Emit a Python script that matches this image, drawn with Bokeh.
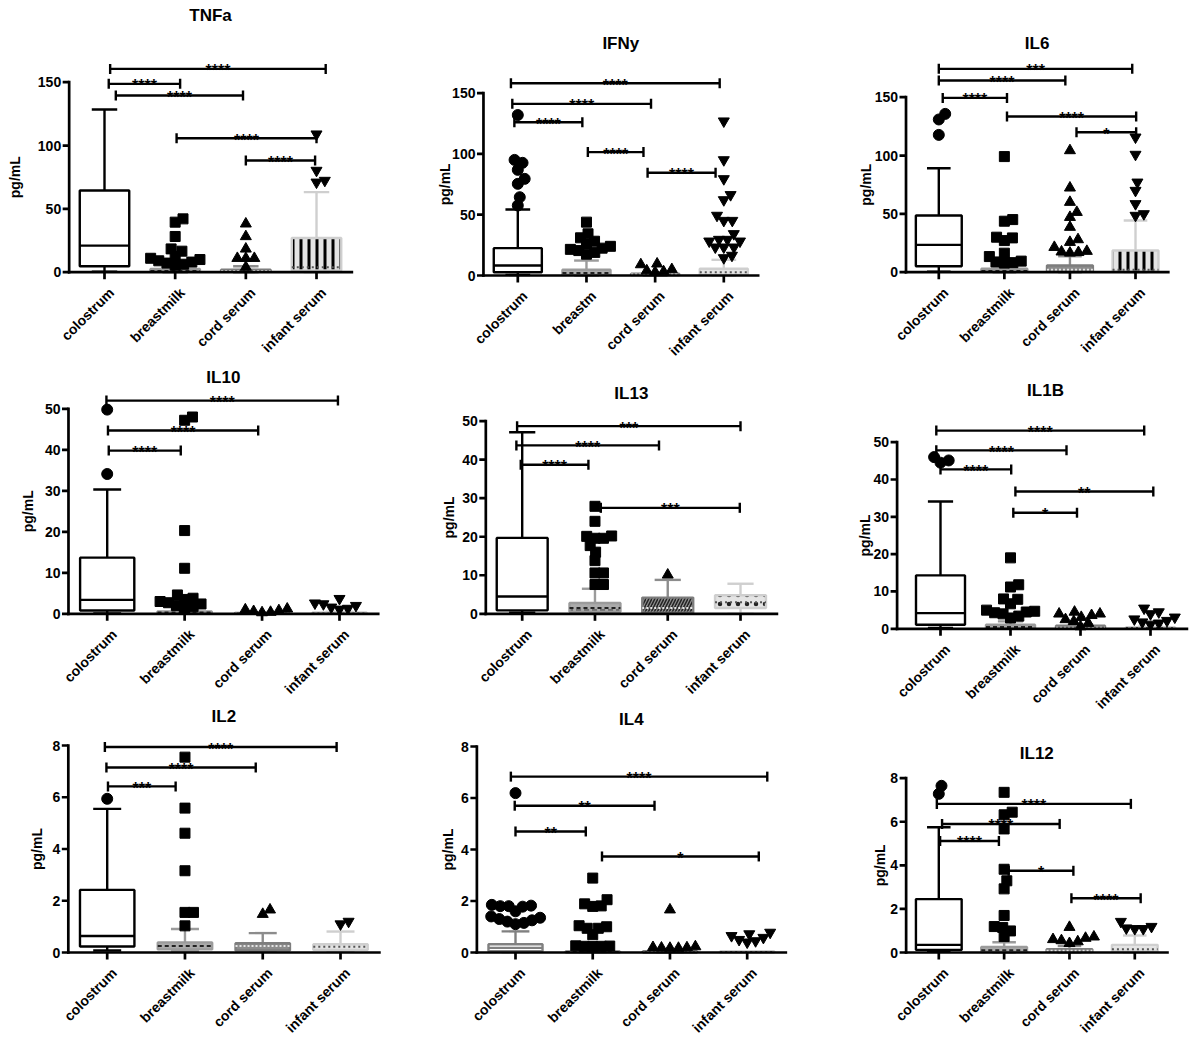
import math
from bokeh.plotting import figure
from bokeh.layouts import column, row
from bokeh.models import Range1d, ColumnDataSource
from bokeh.core.properties import value
from bokeh.embed import file_html
from bokeh.resources import INLINE

FONT = "Liberation Sans"

GROUPS = ["colostrum", "breastmilk", "cord serum", "infant serum"]
GROUPS_IFNY = ["colostrum", "breastm", "cord serum", "infant serum"]

# box stats per group: [whisker_low, q1, median, q3, whisker_high]
TNFA_BOX = [[0.3, 4.7, 21.0, 64.5, 128.5], [0.0, 0.3, 1.0, 2.5, 4.0], [0.0, 0.3, 1.0, 2.0, 4.7], [0.0, 1.3, 4.0, 27.0, 63.2]]
TNFA_COLOSTRUM = []
TNFA_BREASTMILK = [42.1, 39.5, 28.2, 18.4, 16.6, 12.5, 11.0, 10.0, 9.0, 8.0, 7.2, 6.3, 5.5]
TNFA_CORD = [38.2, 28.2, 18.4, 11.0, 11.0, 11.0, 4.0]
TNFA_INFANT = [109.0, 80.3, 72.4, 71.0]
TNFA_SIG = [(0.08, 3.13, 160.5, "****"), (0.06, 1.07, 148.7, "****"), (0.16, 1.96, 139.5, "****"),
            (1.02, 3.0, 105.8, "****"), (2.0, 2.98, 88.2, "****")]
TNFA_YTICKS = [0, 50, 100, 150]

IFNY_BOX = [[0.5, 2.7, 8.2, 22.5, 54.3], [0.0, 0.5, 2.0, 4.7, 12.3], [0.0, 0.3, 0.8, 1.5, 2.5], [0.0, 0.5, 2.7, 5.5, 12.9]]
IFNY_COLOSTRUM = [132.0, 95.1, 92.7, 86.9, 79.5, 75.4, 64.4, 57.6]
IFNY_BREASTMILK = [43.9, 34.3, 31.0, 28.2, 26.0, 24.0, 22.5, 21.5, 20.5, 19.0, 17.5]
IFNY_CORD = [9.6, 9.0, 5.0, 4.0, 3.2, 2.8]
IFNY_INFANT = [127.0, 95.1, 79.5, 66.4, 62.2, 49.4, 45.2, 45.2, 34.3, 29.6, 29.6, 28.2, 28.2, 23.3, 23.3, 23.3, 16.5, 14.5]
IFNY_SIG = [(-0.1, 2.94, 158.2, "****"), (-0.08, 1.94, 141.2, "****"), (-0.05, 0.94, 126.1, "****"),
            (1.02, 1.83, 101.5, "****"), (1.89, 2.88, 84.5, "****")]
IFNY_YTICKS = [0, 50, 100, 150]

IL6_BOX = [[0.5, 5.1, 23.4, 48.6, 89.1], [0.0, 0.3, 1.0, 2.9, 5.0], [0.0, 0.3, 2.0, 5.7, 13.7], [0.0, 0.5, 2.0, 18.6, 44.3]]
IL6_COLOSTRUM = [135.7, 130.9, 117.7]
IL6_BREASTMILK = [99.1, 45.1, 43.7, 30.0, 29.4, 27.1, 16.3, 13.4, 9.5, 8.8, 8.2, 7.8]
IL6_CORD = [104.3, 72.3, 60.0, 51.4, 47.1, 38.6, 28.0, 25.7, 21.4, 18.0, 17.5, 17.0, 16.5]
IL6_INFANT = [115.7, 100.9, 77.1, 70.0, 58.6, 50.0, 48.6]
IL6_SIG = [(0.0, 2.95, 174.3, "***"), (0.0, 1.93, 164.3, "****"), (0.06, 1.04, 149.4, "****"),
           (1.04, 3.01, 133.4, "****"), (2.1, 3.01, 120.0, "*")]
IL6_YTICKS = [0, 50, 100, 150]

IL10_BOX = [[0.1, 0.8, 3.4, 13.7, 30.3], [0.0, 0.1, 0.3, 0.6, 1.0], [0.0, 0.05, 0.1, 0.2, 0.3], [0.0, 0.05, 0.1, 0.3, 0.5]]
IL10_COLOSTRUM = [49.8, 34.1]
IL10_BREASTMILK = [48.0, 47.2, 20.3, 11.1, 4.6, 3.8, 3.5, 3.0, 2.7, 2.4, 2.0, 1.7, 1.4]
IL10_CORD = [1.2, 1.0, 0.8, 0.6, 0.4, 0.3]
IL10_INFANT = [3.7, 2.6, 2.4, 2.0, 1.6, 1.3, 1.1]
IL10_SIG = [(-0.01, 2.98, 52.0, "****"), (0.01, 1.95, 44.7, "****"), (0.02, 0.95, 39.8, "****")]
IL10_YTICKS = [0, 10, 20, 30, 40, 50]

IL13_BOX = [[0.3, 0.9, 4.5, 19.7, 47.1], [0.3, 0.5, 1.5, 2.8, 6.5], [0.0, 0.3, 1.5, 4.2, 8.8], [0.0, 1.5, 3.0, 4.8, 7.8]]
IL13_COLOSTRUM = []
IL13_BREASTMILK = [27.9, 24.0, 20.2, 20.1, 19.6, 19.6, 17.7, 16.0, 13.8, 10.6, 10.6, 7.6, 7.6]
IL13_CORD = [10.1]
IL13_INFANT = []
IL13_SIG = [(-0.07, 3.0, 48.7, "***"), (-0.08, 1.88, 43.7, "****"), (-0.02, 0.91, 38.7, "****"),
            (1.08, 2.99, 27.5, "***")]
IL13_YTICKS = [0, 10, 20, 30, 40, 50]

IL1B_BOX = [[0.2, 1.1, 4.2, 14.3, 34.1], [0.0, 0.1, 0.5, 1.1, 2.0], [0.0, 0.1, 0.3, 0.8, 1.2], [0.0, 0.05, 0.2, 0.4, 0.6]]
IL1B_COLOSTRUM = [46.0, 45.1, 44.5]
IL1B_BREASTMILK = [19.0, 11.8, 11.2, 8.0, 7.9, 6.7, 5.0, 4.7, 4.5, 4.3, 4.0, 3.4, 2.9]
IL1B_CORD = [4.5, 4.0, 4.0, 3.6, 3.1, 2.5, 2.0, 1.5, 0.6]
IL1B_INFANT = [5.5, 4.5, 4.0, 3.1, 2.6, 2.2, 1.8, 1.5, 1.2]
IL1B_SIG = [(-0.06, 2.91, 53.1, "****"), (-0.06, 1.8, 47.8, "****"), (0.0, 1.01, 42.7, "****"),
            (1.07, 3.04, 36.8, "**"), (1.04, 1.95, 31.1, "*")]
IL1B_YTICKS = [0, 10, 20, 30, 40, 50]

IL2_BOX = [[0.08, 0.23, 0.64, 2.42, 5.55], [0.05, 0.12, 0.25, 0.39, 0.91], [0.05, 0.08, 0.25, 0.36, 0.75], [0.05, 0.1, 0.22, 0.32, 0.81]]
IL2_COLOSTRUM = [5.94]
IL2_BREASTMILK = [7.55, 5.58, 4.61, 3.16, 1.55, 1.55, 1.03]
IL2_CORD = [1.65, 1.48]
IL2_INFANT = [1.2, 1.1]
IL2_SIG = [(-0.03, 2.95, 7.94, "****"), (-0.01, 1.91, 7.15, "****"), (0.01, 0.88, 6.42, "***")]
IL2_YTICKS = [0, 2, 4, 6, 8]

IL4_BOX = [[0.02, 0.05, 0.18, 0.32, 0.82], [0.0, 0.0, 0.02, 0.05, 0.05], [0.0, 0.0, 0.02, 0.05, 0.05], [0.0, 0.0, 0.02, 0.05, 0.05]]
IL4_COLOSTRUM = [6.19, 1.85, 1.82, 1.8, 1.8, 1.78, 1.6, 1.4, 1.35, 1.3, 1.25, 1.2, 1.15, 1.1]
IL4_BREASTMILK = [2.89, 2.05, 1.89, 1.81, 1.79, 1.04, 1.0, 0.94, 0.94, 0.69, 0.26, 0.25, 0.24, 0.24, 0.23]
IL4_CORD = [1.66, 0.23, 0.2, 0.19, 0.18, 0.17, 0.17]
IL4_INFANT = [0.78, 0.72, 0.65, 0.58, 0.5, 0.45, 0.4]
IL4_SIG = [(-0.06, 3.26, 6.83, "****"), (-0.01, 1.8, 5.7, "**"), (0.0, 0.91, 4.7, "**"), (1.12, 3.15, 3.73, "*")]
IL4_YTICKS = [0, 2, 4, 6, 8]

IL12_BOX = [[0.05, 0.12, 0.35, 2.45, 5.75], [0.0, 0.02, 0.1, 0.25, 0.47], [0.0, 0.02, 0.08, 0.15, 0.3], [0.0, 0.05, 0.15, 0.35, 0.78]]
IL12_COLOSTRUM = [7.65, 7.28]
IL12_BREASTMILK = [7.35, 6.44, 6.32, 5.67, 3.82, 3.29, 2.92, 1.7, 1.19, 1.15, 0.99, 0.73]
IL12_CORD = [1.16, 0.72, 0.66, 0.6, 0.55, 0.5, 0.42]
IL12_INFANT = [1.42, 1.19, 1.12, 1.09, 1.09]
IL12_SIG = [(-0.03, 2.94, 6.82, "****"), (0.05, 1.85, 5.9, "****"), (0.02, 0.92, 5.12, "****"),
            (1.07, 2.06, 3.75, "*"), (2.03, 3.09, 2.49, "****")]
IL12_YTICKS = [0, 2, 4, 6, 8]

PANELS = [
    ("TNFa", GROUPS, TNFA_BOX, [TNFA_COLOSTRUM, TNFA_BREASTMILK, TNFA_CORD, TNFA_INFANT], TNFA_SIG, TNFA_YTICKS),
    ("IFNy", GROUPS_IFNY, IFNY_BOX, [IFNY_COLOSTRUM, IFNY_BREASTMILK, IFNY_CORD, IFNY_INFANT], IFNY_SIG, IFNY_YTICKS),
    ("IL6", GROUPS, IL6_BOX, [IL6_COLOSTRUM, IL6_BREASTMILK, IL6_CORD, IL6_INFANT], IL6_SIG, IL6_YTICKS),
    ("IL10", GROUPS, IL10_BOX, [IL10_COLOSTRUM, IL10_BREASTMILK, IL10_CORD, IL10_INFANT], IL10_SIG, IL10_YTICKS),
    ("IL13", GROUPS, IL13_BOX, [IL13_COLOSTRUM, IL13_BREASTMILK, IL13_CORD, IL13_INFANT], IL13_SIG, IL13_YTICKS),
    ("IL1B", GROUPS, IL1B_BOX, [IL1B_COLOSTRUM, IL1B_BREASTMILK, IL1B_CORD, IL1B_INFANT], IL1B_SIG, IL1B_YTICKS),
    ("IL2", GROUPS, IL2_BOX, [IL2_COLOSTRUM, IL2_BREASTMILK, IL2_CORD, IL2_INFANT], IL2_SIG, IL2_YTICKS),
    ("IL4", GROUPS, IL4_BOX, [IL4_COLOSTRUM, IL4_BREASTMILK, IL4_CORD, IL4_INFANT], IL4_SIG, IL4_YTICKS),
    ("IL12", GROUPS, IL12_BOX, [IL12_COLOSTRUM, IL12_BREASTMILK, IL12_CORD, IL12_INFANT], IL12_SIG, IL12_YTICKS),
]

# ---- page layout (pixels).  Each panel is one figure whose frame fills its cell.
COL_LEFTS = [0, 400, 795]
COL_WIDTHS = [400, 395, 395]
COL_ROW_EDGES = [[0, 355, 698, 1040], [0, 365, 700, 1040], [0, 362, 722, 1040]]
# col, px of first category, px per category, px of value 0, px per unit, y-axis x, x-axis end, title y px, y-label offset px
LAYOUT = [
    (0, 104.0, 70.67, 271.7, 1.2667, -0.5, 3.5, 15, -54),
    (1, 517.3, 68.67, 275.0, 1.2156, -0.5, 3.5, 43, -38),
    (2, 938.3, 65.57, 271.7, 1.1667, -0.5, 3.5, 43, -40),
    (0, 106.7, 77.43, 613.3, 4.1, -0.5, 3.5, 377, -40),
    (1, 521.7, 72.77, 613.3, 3.853, -0.5, 3.5, 393, -37),
    (2, 940.0, 70.0, 628.3, 3.733, -0.62, 3.52, 390, -32),
    (0, 106.7, 77.77, 952.0, 25.875, -0.5, 3.5, 716, -31),
    (1, 515.0, 77.23, 952.0, 25.75, -0.5, 3.5, 719, -29),
    (2, 938.3, 65.33, 952.0, 21.79, -0.5, 3.5, 753, -26),
]

GROUP_STYLE = [
    dict(line="#000000", fill="#ffffff", whisker="#000000", marker="circle", size=11, med="#000000", dash="solid"),
    dict(line="#9b9b9b", fill="#ababab", whisker="#9b9b9b", marker="square", size=10, med="#222222", dash="4 3"),
    dict(line="#7d7d7d", fill="#8c8c8c", whisker="#8c8c8c", marker="triangle", size=11, med="#e6e6e6", dash="2 2"),
    dict(line="#cfcfcf", fill="#e4e4e4", whisker="#cfcfcf", marker="inverted_triangle", size=11, med="#555555", dash="2 3"),
]
HATCH = {
    ("TNFa", 3): dict(hatch_pattern="vertical_line", hatch_color="#000000", hatch_weight=3, hatch_scale=8),
    ("IL6", 3): dict(hatch_pattern="vertical_line", hatch_color="#000000", hatch_weight=3, hatch_scale=8),
    ("IL13", 1): dict(hatch_pattern="horizontal_dash", hatch_color="#444444", hatch_weight=1.2, hatch_scale=8),
    ("IL13", 2): dict(hatch_pattern="right_diagonal_line", hatch_color="#222222", hatch_weight=1.5, hatch_scale=6),
    ("IL13", 3): dict(hatch_pattern="dot", hatch_color="#222222", hatch_weight=2, hatch_scale=9),
}
LINE_OVERRIDE = {("IL4", 0): "#808080"}

LW = 2.4
AXW = 2.7
BOX_HALF = 0.35
CAP_HALF = 0.18
SWARM_D = 8.5


def swarm_offsets(vals, sx, sy, d):
    n = len(vals)
    order = sorted(range(n), key=lambda i: vals[i])
    placed = []
    offs = [0.0] * n
    for i in order:
        y = vals[i] * sy
        cands = [0.0]
        for (xj, yj) in placed:
            dy = abs(y - yj)
            if dy < d:
                dx = math.sqrt(d * d - dy * dy)
                cands.extend([xj + dx, xj - dx])
        cands.sort(key=lambda c: (abs(c), -c))
        chosen = 0.0
        for c in cands:
            if all((c - xj) ** 2 + (y - yj) ** 2 >= d * d - 1e-6 for (xj, yj) in placed):
                chosen = c
                break
        placed.append((chosen, y))
        offs[i] = chosen / sx
    return offs


def bold_text(p, **kw):
    p.text(text_font=value(FONT), text_font_style="bold", text_color="black", **kw)


def make_panel(k, panel, lay):
    title, labels, box, pts, sig, yticks = panel
    col, c0, sx, y0, sy, ax, axe, title_y, ylab_dx = lay
    rw = k // 3
    cl, cw = COL_LEFTS[col], COL_WIDTHS[col]
    rt, rb = COL_ROW_EDGES[col][rw], COL_ROW_EDGES[col][rw + 1]
    xs = (cl - c0) / sx
    xe = (cl + cw - c0) / sx
    ye = (y0 - rt) / sy
    ys = (y0 - rb) / sy
    p = figure(width=cw, height=rb - rt, x_range=Range1d(xs, xe), y_range=Range1d(ys, ye),
               output_backend="svg", toolbar_location=None, title=None,
               x_axis_location=None, y_axis_location=None, min_border=0)
    p.grid.visible = False
    p.outline_line_color = None
    p.background_fill_color = "white"
    p.border_fill_color = "white"

    # boxes and whiskers
    for g, st in enumerate(box):
        wlo, q1, med, q3, whi = st
        s = GROUP_STYLE[g]
        lc = LINE_OVERRIDE.get((title, g), s["line"])
        wc = LINE_OVERRIDE.get((title, g), s["whisker"])
        mc = LINE_OVERRIDE.get((title, g), s["med"])
        p.segment(x0=[g], y0=[q3], x1=[g], y1=[whi], line_color=wc, line_width=LW)
        p.segment(x0=[g - CAP_HALF], y0=[whi], x1=[g + CAP_HALF], y1=[whi], line_color=wc, line_width=LW)
        p.segment(x0=[g], y0=[q1], x1=[g], y1=[wlo], line_color=wc, line_width=LW)
        p.segment(x0=[g - CAP_HALF], y0=[wlo], x1=[g + CAP_HALF], y1=[wlo], line_color=wc, line_width=LW)
        hk = HATCH.get((title, g), {})
        p.quad(left=[g - BOX_HALF], right=[g + BOX_HALF], bottom=[q1], top=[q3],
               fill_color=s["fill"], line_color=lc, line_width=LW, **hk)
        p.segment(x0=[g - BOX_HALF], y0=[med], x1=[g + BOX_HALF], y1=[med],
                  line_color=mc, line_width=2.0 if g else LW, line_dash=s["dash"])

    # significance brackets
    tick_h = 5.0 / sy
    bx0 = [b[0] for b in sig]
    bx1 = [b[1] for b in sig]
    by = [b[2] for b in sig]
    p.segment(x0=bx0, y0=by, x1=bx1, y1=by, line_color="black", line_width=LW)
    p.segment(x0=bx0, y0=[v - tick_h for v in by], x1=bx0, y1=[v + tick_h for v in by],
              line_color="black", line_width=LW)
    p.segment(x0=bx1, y0=[v - tick_h for v in by], x1=bx1, y1=[v + tick_h for v in by],
              line_color="black", line_width=LW)
    src = ColumnDataSource(dict(x=[(a + b) / 2 for a, b in zip(bx0, bx1)], y=by, t=[b[3] for b in sig]))
    bold_text(p, x="x", y="y", text="t", source=src, text_font_size="16px", text_align="center",
              text_baseline="alphabetic", y_offset=2)

    # individual points
    for g, vals in enumerate(pts):
        if not vals:
            continue
        s = GROUP_STYLE[g]
        offs = swarm_offsets(vals, sx, sy, SWARM_D)
        p.scatter(x=[g + o for o in offs], y=vals, marker=s["marker"], size=s["size"],
                  fill_color="black", line_color="black")

    # y axis
    top = yticks[-1]
    p.segment(x0=[ax], y0=[0], x1=[ax], y1=[top], line_color="black", line_width=AXW, line_cap="square")
    p.segment(x0=[ax] * len(yticks), y0=yticks, x1=[ax - 6.5 / sx] * len(yticks), y1=yticks,
              line_color="black", line_width=AXW)
    bold_text(p, x=[ax] * len(yticks), y=yticks, text=[str(t) for t in yticks], x_offset=-8,
              text_font_size="14px", text_align="right", text_baseline="middle")
    bold_text(p, x=[ax], y=[top / 2.0], text=["pg/mL"], x_offset=ylab_dx, angle=math.pi / 2,
              text_font_size="14px", text_align="center", text_baseline="middle")

    # x axis
    cats = list(range(len(labels)))
    p.segment(x0=[ax], y0=[0], x1=[axe], y1=[0], line_color="black", line_width=AXW, line_cap="square")
    p.segment(x0=cats, y0=[0] * len(cats), x1=cats, y1=[-7.0 / sy] * len(cats), line_color="black", line_width=AXW)
    bold_text(p, x=cats, y=[0] * len(cats), text=labels, angle=math.pi / 4, x_offset=7, y_offset=18,
              text_font_size="14px", text_align="right", text_baseline="middle")

    # title
    bold_text(p, x=[1.5], y=[(y0 - title_y) / sy], text=[title], text_font_size="17px",
              text_align="center", text_baseline="middle")
    return p


figs = [make_panel(k, pn, lay) for k, (pn, lay) in enumerate(zip(PANELS, LAYOUT))]
layout = row(column(figs[0], figs[3], figs[6]), column(figs[1], figs[4], figs[7]),
             column(figs[2], figs[5], figs[8]))

open("out.html", "w").write(file_html(layout, INLINE))
